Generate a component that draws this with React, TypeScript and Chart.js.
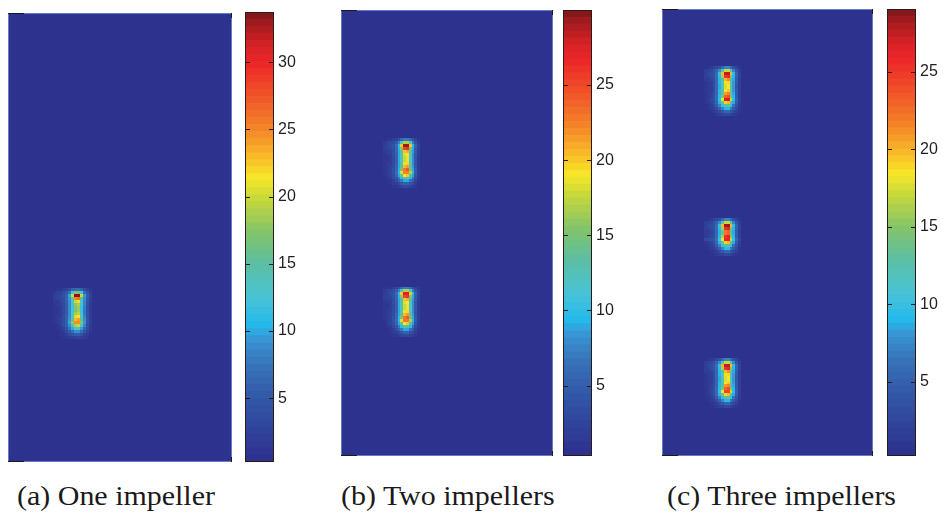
import React, { useEffect, useRef } from "react";
import { Chart, registerables } from "chart.js";

Chart.register(...registerables);

// ------------------------------------------------------------------ data
const GRID_COLS = 75;
const GRID_ROWS = 150;
const BACKGROUND_VALUE = 0.3;
const CORE_COL = 22;

const CAPTIONS = ["(a) One impeller", "(b) Two impellers", "(c) Three impellers"];

const COLORBAR_MIN = [0.26, 0.32, 0.21];
const COLORBAR_MAX = [33.74, 29.99, 29.05];
const COLORBAR_TICKS_A = [5, 10, 15, 20, 25, 30];
const COLORBAR_TICKS_B = [5, 10, 15, 20, 25];
const COLORBAR_TICKS_C = [5, 10, 15, 20, 25];

// grid row of each impeller's upper blade tip
const IMPELLER_ROWS_A = [94];
const IMPELLER_ROWS_B = [45, 95];
const IMPELLER_ROWS_C = [21, 72, 119];
const IMPELLER_KIND_A = ["long"];
const IMPELLER_KIND_B = ["long", "long"];
const IMPELLER_KIND_C = ["long", "short", "long"];
const TOP_TIP_A = [33.3];
const TOP_TIP_B = [29.5, 27.5];
const TOP_TIP_C = [27.5, 28.5, 27.5];
const BOTTOM_TIP_A = [24.5];
const BOTTOM_TIP_B = [22.5, 23.0];
const BOTTOM_TIP_C = [27.0, 26.0, 24.5];

// local field around one impeller; -1 = upper tip value, -2 = lower tip value
const PATCH_ROW_START = -2;
const PATCH_COL_START = -7;
const LONG_PATCH = [
  [0.5, 0.8, 1.2, 1.8, 2.6, 3.8, 5.5, 7.0, 7.0, 5.5, 3.6, 2.2, 1.0],
  [1.6, 2.2, 2.8, 3.5, 4.8, 7.5, 12, 17, 17, 12, 7.0, 4.0, 2.0],
  [2.0, 2.6, 3.2, 4.0, 6.0, 10, 20, -1, -1, 20, 9.5, 5.0, 2.4],
  [1.8, 2.4, 3.0, 3.8, 5.8, 9.5, 16, 25, 26, 15, 9.0, 4.8, 2.2],
  [1.4, 1.8, 2.4, 3.4, 5.5, 9.0, 13, 20, 21, 12.5, 8.5, 4.5, 2.0],
  [1.0, 1.4, 2.0, 3.2, 5.3, 8.8, 12, 18, 19, 12, 8.2, 4.3, 1.8],
  [0.8, 1.2, 1.8, 3.0, 5.2, 8.7, 12, 17.5, 18.5, 11.5, 8.0, 4.2, 1.7],
  [0.8, 1.2, 1.8, 3.0, 5.2, 8.7, 12, 17.5, 18.5, 11.5, 8.0, 4.2, 1.7],
  [0.8, 1.3, 2.0, 3.2, 5.3, 8.8, 12.5, 18.5, 19.5, 12, 8.1, 4.3, 1.7],
  [0.8, 1.4, 2.2, 3.4, 5.5, 9.0, 13.5, 20.5, 21.5, 13, 8.4, 4.4, 1.8],
  [0.8, 1.5, 2.4, 3.6, 5.8, 9.5, 15, 23, 24, 14.5, 9.0, 4.6, 1.9],
  [0.8, 1.5, 2.5, 3.8, 6.0, 10, 18, -2, -2, 17, 9.5, 4.8, 2.0],
  [0.7, 1.3, 2.2, 3.4, 5.5, 9.0, 14, 19, 20, 13, 8.5, 4.4, 1.8],
  [0.5, 1.0, 1.7, 2.7, 4.4, 7.2, 10, 13, 13.5, 9.5, 6.5, 3.5, 1.4],
  [0.4, 0.7, 1.2, 2.0, 3.2, 5.0, 7.0, 9.0, 9.0, 6.8, 4.5, 2.5, 1.0],
  [0.3, 0.5, 0.8, 1.3, 2.0, 3.0, 4.2, 5.2, 5.2, 4.0, 2.8, 1.6, 0.7],
  [0.3, 0.3, 0.5, 0.8, 1.2, 1.7, 2.3, 2.8, 2.8, 2.2, 1.5, 0.9, 0.4],
];
const SHORT_PATCH = [
  [0.5, 0.8, 1.2, 1.8, 2.6, 3.8, 5.5, 7.0, 7.0, 5.5, 3.6, 2.2, 1.0],
  [1.6, 2.2, 2.8, 3.5, 4.8, 7.5, 12, 17, 17, 12, 7.0, 4.0, 2.0],
  [2.0, 2.6, 3.2, 4.0, 6.0, 10, 20, -1, -1, 20, 9.5, 5.0, 2.4],
  [1.8, 2.4, 3.0, 3.8, 5.8, 9.5, 16, 25, 26, 15, 9.0, 4.8, 2.2],
  [1.4, 1.8, 2.4, 3.4, 5.5, 9.0, 14, 22, 23, 13.5, 8.5, 4.5, 2.0],
  [1.2, 1.6, 2.4, 3.4, 5.5, 9.0, 14, 22, 23, 13.5, 8.5, 4.5, 2.0],
  [1.2, 1.8, 2.6, 3.7, 5.8, 9.5, 16, 25, 26, 15, 9.0, 4.6, 2.0],
  [2.6, 3.0, 3.4, 4.2, 6.2, 10.5, 18, -2, -2, 17, 10, 5.2, 2.8],
  [0.7, 1.3, 2.2, 3.4, 5.5, 9.0, 14, 19, 20, 13, 8.5, 4.4, 1.8],
  [0.5, 1.0, 1.7, 2.7, 4.4, 7.2, 10, 13, 13.5, 9.5, 6.5, 3.5, 1.4],
  [0.4, 0.7, 1.2, 2.0, 3.2, 5.0, 7.0, 9.0, 9.0, 6.8, 4.5, 2.5, 1.0],
  [0.3, 0.5, 0.8, 1.3, 2.0, 3.0, 4.2, 5.2, 5.2, 4.0, 2.8, 1.6, 0.7],
  [0.3, 0.3, 0.5, 0.8, 1.2, 1.7, 2.3, 2.8, 2.8, 2.2, 1.5, 0.9, 0.4],
];

// ------------------------------------------------------------------ colour map (print-toned jet)
const CMAP_STOPS: [number, number[]][] = [
  [0.0, [45, 48, 140]],
  [0.052, [47, 62, 150]],
  [0.141, [50, 88, 168]],
  [0.215, [55, 115, 185]],
  [0.274, [55, 150, 212]],
  [0.304, [35, 185, 235]],
  [0.363, [72, 195, 215]],
  [0.441, [92, 190, 160]],
  [0.511, [132, 196, 104]],
  [0.591, [205, 218, 55]],
  [0.63, [246, 232, 40]],
  [0.682, [248, 182, 40]],
  [0.74, [244, 132, 40]],
  [0.815, [240, 82, 40]],
  [0.888, [236, 38, 40]],
  [0.926, [212, 34, 38]],
  [0.97, [165, 28, 32]],
  [1.0, [122, 22, 25]],
];
const N_COLORS = 64;

function cmapAt(t: number): string {
  for (let i = 1; i < CMAP_STOPS.length; i++) {
    const [t1, c1] = CMAP_STOPS[i];
    const [t0, c0] = CMAP_STOPS[i - 1];
    if (t <= t1) {
      const f = (t - t0) / (t1 - t0);
      const c = c0.map((v, k) => Math.round(v + (c1[k] - v) * f));
      return `rgb(${c[0]},${c[1]},${c[2]})`;
    }
  }
  const c = CMAP_STOPS[CMAP_STOPS.length - 1][1];
  return `rgb(${c[0]},${c[1]},${c[2]})`;
}
const CMAP = Array.from({ length: N_COLORS }, (_, i) => cmapAt((i + 0.5) / N_COLORS));

function colorFor(v: number, min: number, max: number) {
  let i = Math.floor(((v - min) / (max - min)) * N_COLORS);
  if (i < 0) i = 0;
  if (i > N_COLORS - 1) i = N_COLORS - 1;
  return CMAP[i];
}

// ------------------------------------------------------------------ layout (styles only)
const PANELS = [
  {
    heat: { left: 8, top: 13, width: 224, height: 449 },
    bar: { left: 245, top: 12, width: 29, height: 450 },
    captionLeft: 17,
  },
  {
    heat: { left: 341, top: 10, width: 212, height: 446 },
    bar: { left: 563, top: 10, width: 29, height: 446 },
    captionLeft: 341,
  },
  {
    heat: { left: 662, top: 9, width: 211, height: 447 },
    bar: { left: 887, top: 9, width: 29, height: 447 },
    captionLeft: 667,
  },
];
const LABEL_W = 26;
const TEXT_COLOR = "#231f20";

const PANEL_DATA = [
  { rows: IMPELLER_ROWS_A, kinds: IMPELLER_KIND_A, tops: TOP_TIP_A, bottoms: BOTTOM_TIP_A, ticks: COLORBAR_TICKS_A },
  { rows: IMPELLER_ROWS_B, kinds: IMPELLER_KIND_B, tops: TOP_TIP_B, bottoms: BOTTOM_TIP_B, ticks: COLORBAR_TICKS_B },
  { rows: IMPELLER_ROWS_C, kinds: IMPELLER_KIND_C, tops: TOP_TIP_C, bottoms: BOTTOM_TIP_C, ticks: COLORBAR_TICKS_C },
];

type Cell = { x: number; y: number; v: number };

function buildCells(rows: number[], kinds: string[], tops: number[], bottoms: number[]): Cell[] {
  const grid: number[][] = Array.from({ length: GRID_ROWS }, () => new Array(GRID_COLS).fill(BACKGROUND_VALUE));
  rows.forEach((r0, k) => {
    const patch = kinds[k] === "short" ? SHORT_PATCH : LONG_PATCH;
    patch.forEach((row, i) =>
      row.forEach((v, j) => {
        const r = r0 + PATCH_ROW_START + i;
        const c = CORE_COL + PATCH_COL_START + j;
        if (r < 0 || r >= GRID_ROWS || c < 0 || c >= GRID_COLS) return;
        const val = v === -1 ? tops[k] : v === -2 ? bottoms[k] : v;
        grid[r][c] = Math.max(grid[r][c], val);
      })
    );
  });
  const cells: Cell[] = [];
  for (let r = 0; r < GRID_ROWS; r++) for (let c = 0; c < GRID_COLS; c++) cells.push({ x: c, y: r, v: grid[r][c] });
  return cells;
}

const heatPlugin = {
  id: "heatCells",
  beforeDatasetsDraw(chart: any, _a: any, opts: any) {
    const { ctx } = chart;
    const xs = chart.scales.x;
    const ys = chart.scales.y;
    const cells = chart.data.datasets[0].data as Cell[];
    ctx.save();
    for (const c of cells) {
      const x0 = Math.round(xs.getPixelForValue(c.x));
      const x1 = Math.round(xs.getPixelForValue(c.x + 1));
      const ya = Math.round(ys.getPixelForValue(c.y));
      const yb = Math.round(ys.getPixelForValue(c.y + 1));
      ctx.fillStyle = colorFor(c.v, opts.min, opts.max);
      ctx.fillRect(x0, Math.min(ya, yb), x1 - x0, Math.abs(yb - ya));
    }
    ctx.restore();
  },
  afterDraw(chart: any) {
    const { ctx, chartArea: a } = chart;
    ctx.save();
    ctx.strokeStyle = "rgba(110,130,205,0.9)";
    ctx.lineWidth = 1;
    ctx.strokeRect(a.left + 0.5, a.top + 0.5, a.right - a.left - 1, a.bottom - a.top - 1);
    ctx.strokeStyle = "#1a1a1a";
    ctx.beginPath();
    ctx.moveTo(a.left, a.top + 0.5);
    ctx.lineTo(a.left + 16, a.top + 0.5);
    ctx.moveTo(a.left, a.bottom - 0.5);
    ctx.lineTo(a.left + 16, a.bottom - 0.5);
    ctx.moveTo(a.right - 0.5, a.top);
    ctx.lineTo(a.right - 0.5, a.top + 5);
    ctx.moveTo(a.right - 0.5, a.bottom);
    ctx.lineTo(a.right - 0.5, a.bottom - 5);
    ctx.stroke();
    ctx.restore();
  },
};

const barFramePlugin = {
  id: "barFrame",
  afterDraw(chart: any, _a: any, opts: any) {
    const { ctx, chartArea: a } = chart;
    const ys = chart.scales.y;
    ctx.save();
    ctx.strokeStyle = "#2a1a18";
    ctx.lineWidth = 1;
    ctx.beginPath();
    for (const v of opts.ticks as number[]) {
      const y = Math.round(ys.getPixelForValue(v)) + 0.5;
      ctx.moveTo(a.left, y);
      ctx.lineTo(a.left + 5, y);
      ctx.moveTo(a.right, y);
      ctx.lineTo(a.right - 5, y);
    }
    ctx.stroke();
    ctx.strokeRect(a.left + 0.5, a.top + 0.5, a.right - a.left - 1, a.bottom - a.top - 1);
    ctx.restore();
  },
};

function Panel({ index }: { index: number }) {
  const heatRef = useRef<HTMLCanvasElement>(null);
  const barRef = useRef<HTMLCanvasElement>(null);
  const layout = PANELS[index];
  const pd = PANEL_DATA[index];
  const min = COLORBAR_MIN[index];
  const max = COLORBAR_MAX[index];

  useEffect(() => {
    const cells = buildCells(pd.rows, pd.kinds, pd.tops, pd.bottoms);
    const heat = new Chart(heatRef.current as HTMLCanvasElement, {
      type: "scatter",
      data: { datasets: [{ data: cells as any, pointRadius: 0, pointHoverRadius: 0 }] },
      options: {
        responsive: false,
        animation: false,
        events: [],
        layout: { padding: 0 },
        plugins: {
          legend: { display: false },
          tooltip: { enabled: false },
          heatCells: { min, max },
        } as any,
        scales: {
          x: { type: "linear", min: 0, max: GRID_COLS, display: false },
          y: { type: "linear", min: 0, max: GRID_ROWS, reverse: true, display: false },
        },
      },
      plugins: [heatPlugin],
    });

    const step = (max - min) / N_COLORS;
    const datasets = CMAP.map((col, i) => ({
      data: [[min + i * step, min + (i + 1) * step]],
      backgroundColor: col,
      borderWidth: 0,
      grouped: false,
      barPercentage: 1,
      categoryPercentage: 1,
    }));
    const bar = new Chart(barRef.current as HTMLCanvasElement, {
      type: "bar",
      data: { labels: [""], datasets: datasets as any },
      options: {
        responsive: false,
        animation: false,
        events: [],
        layout: { padding: 0 },
        plugins: {
          legend: { display: false },
          tooltip: { enabled: false },
          barFrame: { ticks: pd.ticks },
        } as any,
        scales: {
          x: { display: false },
          y: {
            type: "linear",
            position: "right",
            min,
            max,
            grid: { display: false, drawTicks: false },
            border: { display: false },
            ticks: {
              color: TEXT_COLOR,
              padding: 4,
              font: { family: '"Liberation Sans", Arial, sans-serif', size: 16 },
            },
            afterBuildTicks: (s: any) => {
              s.ticks = pd.ticks.map((v) => ({ value: v }));
            },
            afterFit: (s: any) => {
              s.width = LABEL_W;
              s.paddingTop = 0;
              s.paddingBottom = 0;
            },
          } as any,
        },
      },
      plugins: [barFramePlugin],
    });
    return () => {
      heat.destroy();
      bar.destroy();
    };
  }, [index]);

  const h = layout.heat;
  const b = layout.bar;
  return (
    <>
      <canvas
        ref={heatRef}
        width={h.width}
        height={h.height}
        style={{ position: "absolute", left: h.left, top: h.top, width: h.width, height: h.height }}
      />
      <canvas
        ref={barRef}
        width={b.width + LABEL_W}
        height={b.height}
        style={{ position: "absolute", left: b.left, top: b.top, width: b.width + LABEL_W, height: b.height }}
      />
      <div
        style={{
          position: "absolute",
          left: layout.captionLeft,
          top: 482,
          fontFamily: '"Liberation Serif", "Times New Roman", Times, serif',
          fontSize: 28,
          lineHeight: "28px",
          color: "#1a1a1a",
          whiteSpace: "nowrap",
          transform: "scaleX(1.07)",
          transformOrigin: "left top",
        }}
      >
        {CAPTIONS[index]}
      </div>
    </>
  );
}

export default function App() {
  return (
    <div
      style={{
        position: "absolute",
        left: 0,
        top: 0,
        width: 943,
        height: 518,
        background: "#ffffff",
        overflow: "hidden",
      }}
    >
      <Panel index={0} />
      <Panel index={1} />
      <Panel index={2} />
    </div>
  );
}
